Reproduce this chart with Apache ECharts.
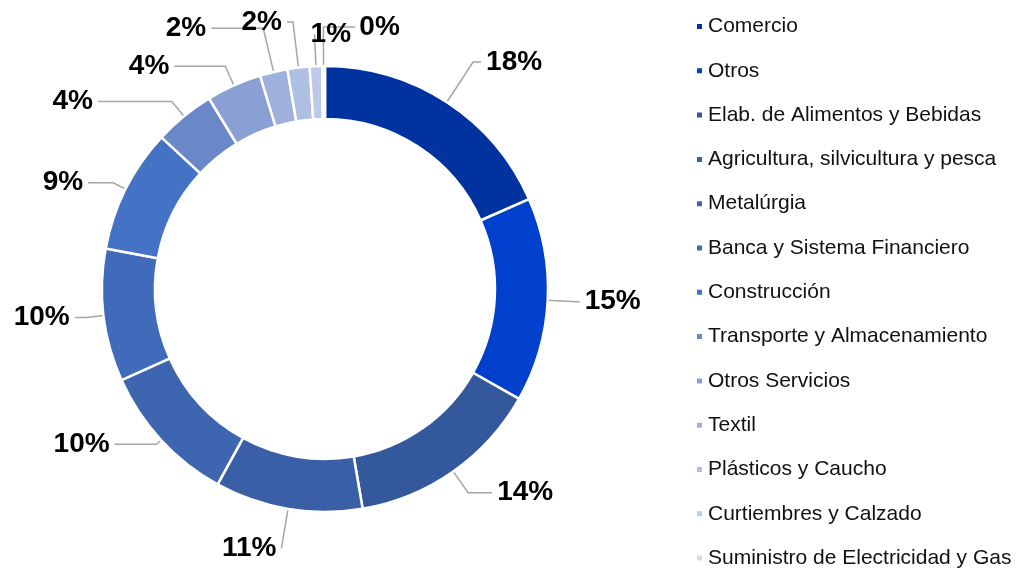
<!DOCTYPE html>
<html>
<head>
<meta charset="utf-8">
<script src="https://cdn.jsdelivr.net/npm/echarts@6/dist/echarts.min.js"></script>
<style>
  html, body { margin: 0; padding: 0; background: #fff; }
  #chart { width: 1019px; height: 574px; }
</style>
</head>
<body>
<div id="chart"></div>
<script>
var sectors = [
  'Comercio', 'Otros', 'Elab. de Alimentos y Bebidas', 'Agricultura, silvicultura y pesca',
  'Metalúrgia', 'Banca y Sistema Financiero', 'Construcción', 'Transporte y Almacenamiento',
  'Otros Servicios', 'Textil', 'Plásticos y Caucho', 'Curtiembres y Calzado',
  'Suministro de Electricidad y Gas'
];
var shares = [18.4, 14.8, 14.1, 10.7, 10.3, 9.6, 9.0, 4.4, 4.0, 2.0, 1.6, 0.9, 0.2];
var colors = [
  '#0033a0', '#0040cc', '#34589c', '#3a5fa6', '#3d65b0', '#3f6bba', '#4472c4',
  '#6a87c8', '#8a9fd4', '#9eb0dc', '#afbee3', '#bdc9e9', '#d3dcf0'
];

// leader lines: radial part, horizontal part, and whether the label sits to the right of the elbow
// (for right-hand labels a negative horizontal part just nudges the text back over the elbow)
var leaderLen = [74, 55, 52, 66, 32, 43, 40, 45, 47, 71, 72, 58, 65];
var leaderLen2 = [8, 3, 24, 0, 42, 12, 25, 74, 51, 52, 6, -8, 32];
var flipLabel = [0, 0, 0, 0, 0, 0, 0, 0, 0, 0, 0, 1, 1];

var font = 'Liberation Sans, Arial, sans-serif';

var pieData = [];
for (var i = 0; i < sectors.length; i++) {
  pieData.push({ name: sectors[i], value: shares[i], itemStyle: { color: colors[i] } });
}
var labelData = [];
for (var j = 0; j < sectors.length; j++) {
  labelData.push({
    name: sectors[j],
    value: shares[j],
    labelLine: { length: leaderLen[j], length2: flipLabel[j] ? 0 : leaderLen2[j] }
  });
}

var myChart = echarts.init(document.getElementById('chart'));

var option = {
  animation: false,
  backgroundColor: '#fff',
  legend: {
    orient: 'vertical',
    left: 695,
    top: 16,
    padding: 0,
    icon: 'rect',
    itemWidth: 7,
    itemHeight: 7,
    itemGap: 23.3,
    data: sectors,
    selectedMode: false,
    textStyle: { fontFamily: font, fontSize: 21, color: '#111', lineHeight: 21 }
  },
  series: [
    {
      name: 'ring',
      type: 'pie',
      center: [325, 289],
      radius: [170, 223],
      startAngle: 90,
      clockwise: true,
      silent: true,
      label: { show: false },
      labelLine: { show: false },
      itemStyle: { borderColor: '#fff', borderWidth: 2.5 },
      data: pieData
    },
    {
      // invisible pie whose edge sits mid-ring, so leader lines start inside the band
      name: 'labels',
      type: 'pie',
      center: [325, 289],
      radius: [0, 197],
      startAngle: 90,
      clockwise: true,
      silent: true,
      avoidLabelOverlap: false,
      itemStyle: { color: 'rgba(0,0,0,0)' },
      label: {
        show: true,
        position: 'outside',
        overflow: 'none',
        formatter: function (p) { return Math.round(p.value) + '%'; },
        fontFamily: font,
        fontSize: 28,
        fontWeight: 'bold',
        color: '#000'
      },
      labelLine: {
        show: true,
        lineStyle: { color: '#a6a6a6', width: 1.5 }
      },
      labelLayout: function (params) {
        var k = params.dataIndex;
        if (!flipLabel[k] || !params.labelLinePoints) return {};
        var p0 = params.labelLinePoints[0];
        var p1 = params.labelLinePoints[1];
        var end = [p1[0] + Math.max(leaderLen2[k], 0), p1[1]];
        return {
          x: p1[0] + leaderLen2[k] + 4,
          y: end[1],
          align: 'left',
          verticalAlign: 'middle',
          labelLinePoints: [p0, p1, end]
        };
      },
      data: labelData
    }
  ]
};
myChart.setOption(option);
</script>
</body>
</html>
